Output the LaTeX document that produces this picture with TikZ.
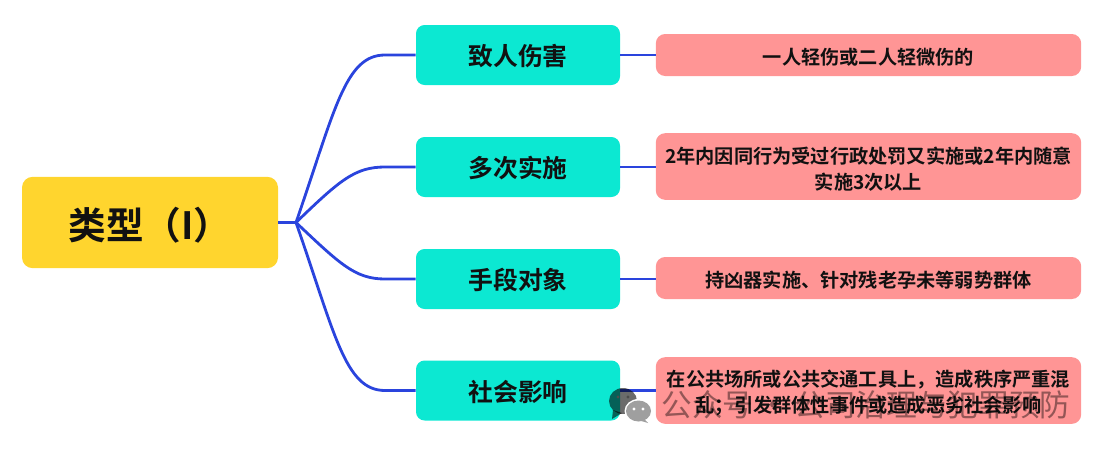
\documentclass[tikz,border=0pt]{standalone}
\usepackage{fontspec}
\setmainfont{Noto Sans CJK SC}[BoldFont={* Bold}]
\newfontfamily\markfont{Noto Sans CJK SC}
\definecolor{rootcolor}{HTML}{FFD52E}
\definecolor{typecolor}{HTML}{0CE8D2}
\definecolor{desccolor}{HTML}{FF9595}
\definecolor{linecolor}{HTML}{2A44DD}
\definecolor{textcolor}{HTML}{111111}
\begin{document}
\begin{tikzpicture}[x=0.75pt,y=-0.75pt,
  root node/.style={rectangle,fill=rootcolor,rounded corners=8pt,minimum width=192pt,minimum height=68.5pt,inner sep=0pt,text=textcolor,font=\fontsize{28.2}{32}\selectfont\bfseries,execute at begin node=\rule{0pt}{28pt}},
  type node/.style={rectangle,fill=typecolor,rounded corners=6.5pt,minimum width=153pt,minimum height=45pt,inner sep=0pt,text=textcolor,font=\fontsize{18.6}{22}\selectfont\bfseries,execute at begin node=\rule{0pt}{18pt}},
  desc node/.style={rectangle,fill=desccolor,rounded corners=7pt,minimum width=319pt,inner sep=0pt,text=textcolor,align=center,text width=312pt,font=\fontsize{14.4}{19.8}\selectfont\bfseries,execute at begin node=\rule{0pt}{16pt}},
  branch/.style={draw=linecolor,line width=2.1pt},
  mark dark/.style={fill=black,opacity=0.58},
  mark light/.style={fill=gray!75}]
  \useasboundingbox (0,0) rectangle (1106,450);
  \node[root node] (root) at (150,222.5){类型（I）};
  \coordinate (fork) at (296,222.5);
  \node[type node] (1) at (518,55){致人伤害};
  \node[type node] (2) at (518,167){多次实施};
  \node[type node] (3) at (518,279){手段对象};
  \node[type node] (4) at (518,390.5){社会影响};
  \node[desc node,minimum height=31.5pt] (a) at (868.5,55){一人轻伤或二人轻微伤的};
  \node[desc node,minimum height=50pt] (b) at (868.5,166.5){2年内因同行为受过行政处罚又实施或2年内随意\\实施3次以上};
  \node[desc node,minimum height=31.5pt] (c) at (868.5,278){持凶器实施、针对残老孕未等弱势群体};
  \node[desc node,minimum height=50pt] (d) at (868.5,390.5){在公共场所或公共交通工具上，造成秩序严重混\\乱；引发群体性事件或造成恶劣社会影响};
  \path[branch] (root.east) -- (fork);
  \path[branch] (fork) .. controls (335,110) and (345,55) .. (385,55) -- (1.west);
  \path[branch] (fork) .. controls (340,180) and (355,167) .. (385,167) -- (2.west);
  \path[branch] (fork) .. controls (340,264) and (355,279) .. (385,279) -- (3.west);
  \path[branch] (fork) .. controls (335,334) and (345,390.5) .. (385,390.5) -- (4.west);
  \path[branch] (1.east) -- (1.east -| a.west);
  \path[branch] (2.east) -- (2.east -| b.west);
  \path[branch] (3.east) -- (3.east -| c.west);
  \path[branch] (4.east) -- (4.east -| d.west);
  % watermark
  \node[font=\markfont\fontsize{23}{27}\selectfont,text=black,opacity=0.42,inner sep=0pt] (mark) at (866,405){公众号\,·\,公司治理与犯罪预防};
  \fill[mark dark] (623,401) ellipse (14 and 13);
  \fill[mark dark] (613,410) -- (612,419) -- (622,413) -- cycle;
  \fill[white] (638.5,411) ellipse (14 and 12);
  \fill[mark light] (638.5,411) ellipse (12.5 and 10.5);
  \fill[mark light] (643,418) -- (648,423) -- (638,420) -- cycle;
  \fill[white] (634,409) circle (1.7) (643,409) circle (1.7);
  \fill[black!70] (618,397) circle (1.7) (628,397) circle (1.7);
\end{tikzpicture}
\end{document}
